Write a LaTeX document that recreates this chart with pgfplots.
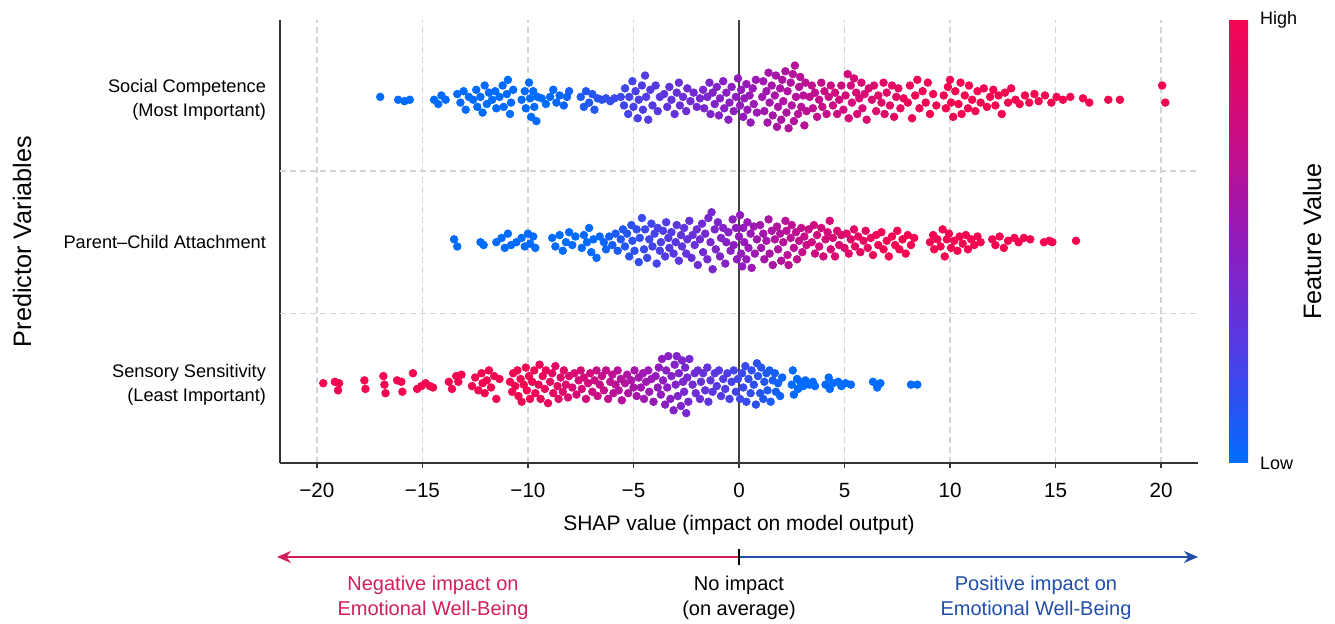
\documentclass[border=0pt]{standalone}
\usepackage{pgfplots}
\pgfplotsset{compat=1.18}
\usepackage{fontspec}
\setmainfont{Liberation Sans}
\usetikzlibrary{arrows.meta}
\definecolor{negc}{RGB}{208,32,92}
\definecolor{posc}{RGB}{32,78,170}
\definecolor{gridc}{RGB}{212,212,212}

\begin{document}
\begin{tikzpicture}
\begin{axis}[
  name=ax,
  scale only axis,
  width=459pt, height=221.5pt,
  xmin=-21.75, xmax=21.75,
  ymin=-0.55, ymax=2.56,
  axis x line*=bottom, axis y line*=left,
  axis line style={-, black!80, line width=0.8pt},
  xtick={-20,-15,...,20},
  xticklabels={−20,−15,−10,−5,0,5,10,15,20},
  tick align=outside,
  major tick length=2.5pt,
  xtick style={black!80, line width=0.7pt},
  ytick={0,1,2},
  yticklabels={{Sensory Sensitivity\\(Least Important)},{Parent--Child Attachment},{Social Competence\\(Most Important)}},
  ytick style={draw=none},
  yticklabel style={align=right, font=\fontsize{9.1pt}{12pt}\selectfont, xshift=-1pt},
  xticklabel style={font=\fontsize{10.3pt}{12pt}\selectfont, yshift=-4pt},
  xmajorgrids=true,
  extra y ticks={0.5,1.5},
  extra y tick labels={},
  extra y tick style={grid=major},
  major grid style={gridc, line width=0.6pt, dash pattern=on 3pt off 2pt},
  xlabel={SHAP value (impact on model output)},
  xlabel style={at={(axis description cs:0.5,-0.14)}, anchor=center, font=\fontsize{10.5pt}{12pt}\selectfont},
  ylabel={Predictor Variables},
  ylabel style={at={(axis description cs:-0.281,0.5)}, anchor=center, font=\fontsize{12.6pt}{14pt}\selectfont},
  colormap={shap}{rgb255=(0,108,255) rgb255=(80,60,230) rgb255=(145,28,190) rgb255=(205,12,130) rgb255=(243,5,80)},
  point meta min=0, point meta max=1,
  colorbar,
  colorbar style={
    at={(parent axis.north east)}, anchor=north west, xshift=7pt,
    width=9.5pt, height=221.5pt,
    ytick={0,1}, yticklabels={Low,High},
    major tick length=0pt,
    axis line style={draw=none},
    yticklabel style={font=\fontsize{9pt}{11pt}\selectfont, xshift=2.5pt},
    ylabel={Feature Value},
    ylabel style={at={(axis description cs:4.37,0.5)}, anchor=center, font=\fontsize{12.6pt}{14pt}\selectfont},
  },
  scatter/use mapped color={draw=mapped color, fill=mapped color},
]

% Social Competence (row 2)
\addplot[scatter, only marks, mark=*, mark size=1.9pt,
  point meta={max(0,min(1,(\thisrow{x}+9)/18))}]
  table[row sep=\\, x=x, y expr=\thisrow{d}+2] {
x d\\
-17.0 0.02\\ -16.15 0\\ -15.85 -0.01\\ -15.6 0\\
-14.45 0\\ -14.25 -0.03\\ -14.1 0.03\\ -13.9 0\\
-13.35 0.04\\ -13.2 -0.02\\ -13.05 0.06\\ -12.95 -0.07\\ -12.8 0.02\\
-12.6 0\\ -12.45 0.07\\ -12.4 -0.05\\ -12.25 0.02\\ -12.15 -0.09\\ -12.05 0.1\\ -11.95 -0.03\\ -11.85 0.05\\
-11.7 0\\ -11.55 0.06\\ -11.5 -0.06\\ -11.35 0.02\\ -11.2 0.1\\ -11.15 -0.05\\ -11.0 0.04\\ -10.95 0.14\\ -10.85 -0.1\\ -10.8 -0.02\\ -10.7 0.07\\
-10.3 0\\ -10.15 0.06\\ -10.1 -0.06\\ -9.95 0.12\\ -9.9 0.01\\ -9.85 -0.12\\ -9.75 0.06\\ -9.7 -0.05\\ -9.6 -0.15\\ -9.55 0.02\\
-9.35 0.01\\ -9.15 -0.03\\ -8.95 0.02\\ -8.8 0.07\\ -8.65 -0.02\\ -8.5 0.03\\ -8.3 -0.04\\ -8.15 0.02\\ -8.05 0.06\\
-7.5 0.02\\ -7.35 -0.05\\ -7.25 0.06\\ -7.1 -0.02\\ -6.95 0.04\\ -6.85 -0.07\\ -6.7 0.01\\
-6.5 0\\ -6.3 0.01\\ -6.1 -0.01\\ -5.9 0.01\\
-5.6 0.02\\ -5.45 -0.04\\ -5.4 0.08\\ -5.25 -0.1\\ -5.2 0.02\\ -5.05 0.13\\ -5.0 -0.05\\ -4.9 0.06\\ -4.8 -0.13\\ -4.75 0\\
-4.6 0.1\\ -4.55 -0.07\\ -4.45 0.17\\ -4.4 0.02\\ -4.3 -0.14\\ -4.2 0.07\\ -4.1 -0.04\\ -3.95 0.1\\ -3.85 -0.08\\ -3.75 0.02\\
-3.55 0.04\\ -3.4 -0.05\\ -3.3 0.09\\ -3.2 0\\ -3.05 -0.1\\ -2.95 0.05\\ -2.85 0.12\\ -2.8 -0.04\\ -2.65 0.02\\ -2.5 -0.08\\ -2.45 0.08\\ -2.3 -0.01\\ -2.15 0.05\\ -2.0 -0.05\\
-1.85 0.01\\ -1.7 0.07\\ -1.65 -0.06\\ -1.5 0.02\\ -1.4 0.12\\ -1.35 -0.1\\ -1.25 0.05\\ -1.15 -0.03\\ -1.05 0.09\\ -0.95 -0.11\\
-0.9 0.01\\ -0.75 0.13\\ -0.7 -0.06\\ -0.6 0.05\\ -0.5 -0.14\\ -0.45 -0.02\\ -0.35 0.09\\ -0.25 -0.08\\ -0.15 0.02\\ -0.05 0.15\\
0.05 -0.04\\ 0.1 0.07\\ 0.2 -0.12\\ 0.25 0.01\\ 0.35 0.11\\ 0.4 -0.07\\ 0.5 0.03\\ 0.55 -0.16\\ 0.65 0.08\\ 0.7 -0.03\\ 0.8 0.14\\ 0.85 -0.09\\
1.1 0.02\\ 1.15 0.13\\ 1.2 -0.08\\ 1.3 0.06\\ 1.35 -0.16\\ 1.4 0.19\\ 1.45 -0.02\\ 1.55 0.1\\ 1.6 -0.11\\ 1.7 0.03\\ 1.75 0.17\\ 1.8 -0.19\\
1.85 -0.05\\ 1.95 0.08\\ 2.0 -0.14\\ 2.05 0.14\\ 2.1 -0.01\\ 2.2 0.2\\ 2.25 -0.09\\ 2.3 0.06\\ 2.35 -0.2\\ 2.45 0.12\\ 2.5 -0.04\\ 2.55 0.18\\
2.6 -0.15\\ 2.65 0.24\\ 2.7 0.02\\ 2.8 -0.1\\ 2.85 0.09\\ 2.9 0.16\\ 2.95 -0.05\\ 3.05 0.03\\ 3.1 -0.18\\ 3.15 0.12\\ 3.2 -0.08\\
3.35 0.02\\ 3.45 0.1\\ 3.5 -0.06\\ 3.6 0.05\\ 3.7 -0.12\\ 3.8 0\\ 3.9 0.12\\ 3.95 -0.05\\ 4.05 0.06\\ 4.15 -0.1\\ 4.25 0.02\\ 4.35 0.1\\ 4.45 -0.04\\ 4.55 0.05\\ 4.65 -0.1\\ 4.75 0\\ 4.85 0.1\\
4.95 -0.07\\ 5.05 0.03\\ 5.15 0.18\\ 5.2 -0.13\\ 5.3 0.1\\ 5.35 -0.02\\ 5.45 0.15\\ 5.55 0.05\\ 5.6 -0.1\\ 5.7 0.01\\ 5.8 0.12\\ 5.85 -0.06\\ 5.95 0.04\\ 6.05 -0.14\\ 6.15 0.08\\
6.3 0\\ 6.4 0.1\\ 6.5 -0.08\\ 6.6 0.03\\ 6.75 -0.02\\ 6.85 0.12\\ 6.9 -0.1\\ 7.0 0.05\\ 7.15 -0.04\\ 7.25 0.1\\ 7.35 -0.12\\ 7.45 0.02\\ 7.55 0.08\\ 7.65 -0.06\\ 7.8 0.01\\
8.0 -0.02\\ 8.1 0.1\\ 8.2 -0.13\\ 8.35 0.03\\ 8.45 0.14\\ 8.55 -0.06\\ 8.7 0.06\\ 8.85 -0.02\\ 8.95 0.12\\ 9.05 -0.1\\ 9.2 0.04\\ 9.35 -0.04\\
9.7 0.03\\ 9.8 -0.06\\ 9.9 0.09\\ 10.0 0.14\\ 10.05 -0.02\\ 10.15 -0.12\\ 10.25 0.06\\ 10.4 -0.03\\ 10.5 0.12\\ 10.55 -0.1\\
10.7 0.03\\ 10.85 -0.06\\ 10.9 0.1\\ 11.05 0\\ 11.2 -0.08\\ 11.3 0.06\\ 11.45 -0.02\\ 11.6 0.08\\ 11.75 -0.05\\ 11.9 0.02\\
12.05 0.07\\ 12.15 -0.04\\ 12.3 0.03\\ 12.45 -0.1\\ 12.6 0.05\\ 12.75 -0.02\\ 12.9 0.08\\ 13.1 0\\
13.3 -0.03\\ 13.55 0.03\\ 13.75 -0.02\\ 14.0 0.04\\ 14.2 -0.01\\ 14.5 0.03\\ 14.8 -0.02\\ 15.05 0.02\\ 15.35 0\\ 15.7 0.02\\
16.3 0.01\\ 16.6 -0.02\\ 17.5 0\\ 18.05 0\\ 20.05 0.1\\ 20.2 -0.02\\
};

% Parent-Child Attachment (row 1)
\addplot[scatter, only marks, mark=*, mark size=1.9pt,
  point meta={max(0,min(1,(\thisrow{x}+7)/14))}]
  table[row sep=\\, x=x, y expr=\thisrow{d}+1] {
x d\\
-13.5 0.02\\ -13.35 -0.03\\ -12.25 0\\ -12.1 -0.02\\
-11.5 0\\ -11.25 0.03\\ -11.1 -0.04\\ -10.95 0.06\\ -10.8 -0.02\\ -10.55 0\\ -10.3 0.03\\ -10.15 -0.03\\ -10.0 0.06\\ -9.9 -0.01\\ -9.75 0.04\\ -9.65 -0.04\\
-8.85 0.03\\ -8.7 -0.03\\ -8.5 0.05\\ -8.35 -0.06\\ -8.2 0\\ -8.05 0.07\\ -7.9 -0.02\\ -7.75 0.04\\
-7.45 -0.04\\ -7.35 0.05\\ -7.2 0\\ -7.1 0.1\\ -7.0 -0.07\\ -6.9 0.02\\ -6.75 -0.11\\ -6.6 0.04\\
-6.4 0\\ -6.3 -0.05\\ -6.15 0.04\\ -6.0 -0.02\\ -5.85 0.06\\ -5.75 -0.06\\ -5.6 0.02\\ -5.5 0.09\\
-5.4 -0.03\\ -5.3 0.06\\ -5.2 -0.1\\ -5.1 0.12\\ -5.05 0.01\\ -4.95 -0.06\\ -4.85 0.09\\ -4.75 -0.14\\ -4.7 0.03\\ -4.6 0.17\\
-4.5 -0.05\\ -4.45 0.09\\ -4.35 -0.11\\ -4.25 0.02\\ -4.15 0.13\\ -4.1 -0.03\\ -4.0 0.06\\ -3.9 -0.15\\ -3.85 0.1\\ -3.75 -0.06\\
-3.7 0\\ -3.6 0.08\\ -3.5 -0.1\\ -3.45 0.14\\ -3.35 0.03\\ -3.3 -0.04\\
-3.2 0.07\\ -3.1 -0.08\\ -3.0 0\\ -2.95 0.12\\ -2.85 -0.13\\ -2.75 0.05\\ -2.7 -0.03\\ -2.6 0.1\\ -2.5 -0.08\\ -2.45 0.02\\
-2.35 0.15\\ -2.25 -0.11\\ -2.2 0.05\\ -2.1 -0.02\\ -2.0 0.09\\ -1.95 -0.16\\ -1.85 0.02\\ -1.75 0.13\\ -1.7 -0.07\\ -1.6 0.06\\
-1.5 -0.12\\ -1.45 0.17\\ -1.35 0\\ -1.3 0.21\\ -1.25 -0.19\\ -1.15 0.09\\ -1.1 -0.05\\ -1.0 0.14\\ -0.9 -0.1\\ -0.85 0.03\\
-0.75 0.1\\ -0.65 -0.15\\ -0.6 0\\ -0.5 0.07\\ -0.4 -0.06\\ -0.3 0.16\\ -0.25 -0.02\\ -0.15 0.1\\ -0.1 -0.12\\
0.0 0.04\\ 0.05 0.19\\ 0.1 -0.08\\ 0.15 -0.17\\ 0.2 0.1\\ 0.25 0\\ 0.35 -0.12\\ 0.4 0.14\\ 0.45 -0.04\\ 0.55 0.06\\ 0.6 -0.18\\ 0.7 0.11\\ 0.75 -0.08\\ 0.85 0.02\\
1.0 0.12\\ 1.05 -0.04\\ 1.15 0.06\\ 1.2 -0.12\\ 1.3 0.01\\ 1.4 0.16\\ 1.45 -0.08\\ 1.55 0.08\\ 1.6 -0.16\\ 1.7 0.02\\ 1.8 0.11\\ 1.85 -0.05\\
1.95 0.06\\ 2.0 -0.13\\ 2.1 0\\ 2.2 0.15\\ 2.25 0.08\\ 2.3 -0.09\\ 2.35 -0.16\\ 2.45 0.03\\ 2.5 0.12\\ 2.6 -0.04\\ 2.7 0.07\\ 2.75 -0.12\\
2.85 0.01\\ 2.95 0.1\\ 3.0 -0.07\\ 3.1 0.04\\ 3.2 -0.02\\ 3.3 0.09\\
3.45 0\\ 3.55 0.12\\ 3.6 -0.08\\ 3.7 0.05\\ 3.8 -0.03\\ 3.9 0.1\\ 4.0 -0.1\\ 4.1 0.02\\ 4.2 0.07\\ 4.3 0.15\\ 4.35 -0.05\\ 4.45 0.03\\ 4.55 -0.1\\ 4.65 0.08\\ 4.75 -0.02\\ 4.85 0.05\\
5.0 -0.04\\ 5.1 0.06\\ 5.2 -0.08\\ 5.3 0.02\\ 5.45 0.09\\ 5.5 -0.03\\ 5.65 0.04\\ 5.75 -0.07\\ 5.9 0.01\\ 6.0 0.08\\ 6.1 -0.04\\ 6.25 0.03\\ 6.35 -0.09\\ 6.5 0.05\\
6.6 -0.02\\ 6.75 0.07\\ 6.85 -0.05\\ 7.0 0.01\\ 7.1 -0.1\\ 7.25 0.04\\ 7.4 -0.02\\ 7.5 0.08\\ 7.6 -0.05\\ 7.75 0.02\\ 7.9 -0.08\\ 8.0 0.05\\ 8.15 -0.02\\ 8.3 0.03\\
9.05 0\\ 9.2 0.05\\ 9.25 -0.05\\ 9.4 0.02\\ 9.55 -0.03\\ 9.65 0.09\\ 9.75 -0.1\\ 9.85 0.02\\ 9.95 0.06\\ 10.05 -0.04\\
10.2 0.01\\ 10.35 -0.06\\ 10.45 0.04\\ 10.6 -0.01\\ 10.75 0.05\\ 10.85 -0.05\\ 11.0 0.02\\ 11.15 -0.02\\ 11.3 0.04\\ 11.45 0\\
12.0 0.02\\ 12.15 -0.02\\ 12.35 0.04\\ 12.55 -0.04\\ 12.75 0.01\\ 13.05 0.03\\ 13.25 0\\ 13.5 0.03\\ 13.8 0.02\\
14.45 0\\ 14.7 0.01\\ 14.85 0\\ 15.97 0.01\\
};

% Sensory Sensitivity (row 0)
\addplot[scatter, only marks, mark=*, mark size=1.9pt,
  point meta={max(0,min(1,(2.5-\thisrow{x})/12.5))}]
  table[row sep=\\, x=x, y expr=\thisrow{d}] {
x d\\
-19.7 0.01\\ -19.15 0.02\\ -18.95 0.01\\ -19.0 -0.04\\ -17.75 0.03\\ -17.7 -0.03\\
-16.85 0.06\\ -16.8 0\\ -16.75 -0.06\\ -16.2 0.03\\ -16.0 0.02\\ -15.95 -0.05\\ -15.45 0.08\\
-15.25 -0.03\\ -15.05 -0.01\\ -14.85 0.01\\ -14.65 -0.01\\ -14.5 -0.02\\
-13.75 0.02\\ -13.6 -0.03\\ -13.4 0.06\\ -13.3 0.02\\ -13.15 0.07\\
-12.65 -0.01\\ -12.5 0.05\\ -12.35 -0.04\\ -12.2 0.08\\ -12.15 0.01\\ -12.05 -0.06\\ -11.95 0.03\\ -11.85 0.1\\ -11.75 -0.02\\ -11.6 0.06\\ -11.5 -0.1\\ -11.35 0.04\\
-10.85 0.02\\ -10.75 -0.05\\ -10.7 0.08\\ -10.6 -0.01\\ -10.5 0.1\\ -10.45 -0.08\\ -10.35 0.04\\ -10.3 -0.12\\ -10.2 0\\ -10.1 0.12\\
-10.05 -0.04\\ -9.95 0.06\\ -9.9 -0.1\\ -9.8 0.02\\ -9.7 0.1\\ -9.65 -0.06\\
-9.5 0\\ -9.45 0.14\\ -9.4 -0.1\\ -9.3 0.06\\ -9.2 -0.03\\ -9.15 0.1\\ -9.05 -0.13\\ -8.95 0.02\\ -8.85 0.08\\ -8.8 -0.06\\
-8.7 0.13\\ -8.6 -0.01\\ -8.55 -0.1\\ -8.45 0.05\\ -8.35 -0.05\\ -8.3 0.1\\ -8.2 0\\ -8.1 -0.09\\ -8.05 0.06\\
-7.9 -0.02\\ -7.8 0.08\\ -7.7 -0.07\\ -7.6 0.03\\ -7.5 0.1\\ -7.45 -0.03\\ -7.35 0.05\\ -7.25 -0.1\\ -7.15 0.01\\ -7.05 0.08\\
-6.95 -0.05\\ -6.85 0.03\\ -6.75 0.1\\ -6.7 -0.08\\ -6.6 0\\ -6.5 0.06\\ -6.4 -0.04\\ -6.3 0.1\\ -6.2 -0.1\\ -6.1 0.02\\
-6.0 0.07\\ -5.95 -0.06\\ -5.85 0\\ -5.75 0.1\\ -5.7 -0.04\\ -5.6 0.04\\ -5.55 -0.11\\
-5.4 0.01\\ -5.3 0.07\\ -5.25 -0.06\\ -5.1 0.03\\ -5.0 -0.02\\ -4.95 0.1\\ -4.85 -0.08\\ -4.75 0.05\\ -4.65 -0.02\\ -4.55 0.08\\
-4.5 -0.1\\ -4.4 0.02\\ -4.3 0.1\\ -4.25 -0.05\\ -4.15 0.04\\ -4.05 -0.12\\ -3.95 0.06\\ -3.85 -0.02\\ -3.8 0.12\\
-3.7 -0.07\\ -3.65 0.18\\ -3.6 0.03\\ -3.5 -0.14\\ -3.45 0.1\\ -3.4 -0.02\\ -3.35 0.2\\ -3.25 -0.1\\ -3.2 0.06\\ -3.1 -0.18\\
-3.05 0.14\\ -3.0 0\\ -2.95 0.2\\ -2.9 -0.08\\ -2.85 0.08\\ -2.75 -0.15\\ -2.7 0.17\\ -2.65 0.02\\ -2.6 -0.05\\ -2.55 0.12\\ -2.5 -0.2\\ -2.45 0.05\\ -2.4 -0.12\\ -2.35 0.18\\
-2.2 0\\ -2.1 0.08\\ -2.05 -0.06\\ -1.95 0.1\\ -1.85 -0.1\\ -1.8 0.02\\ -1.7 0.08\\ -1.6 -0.04\\ -1.5 0.12\\ -1.45 -0.12\\ -1.35 0.03\\ -1.25 -0.05\\
-1.15 0.08\\ -1.05 -0.01\\ -0.95 0.1\\ -0.85 -0.08\\ -0.75 0.04\\ -0.65 -0.03\\ -0.55 0.08\\ -0.45 -0.1\\ -0.35 0.02\\ -0.25 0.1\\ -0.15 -0.05\\ -0.05 0.04\\
0.05 -0.1\\ 0.15 0.08\\ 0.2 -0.02\\ 0.3 0.13\\ 0.35 -0.12\\ 0.45 0.04\\ 0.55 -0.06\\ 0.6 0.1\\ 0.7 0\\ 0.8 -0.14\\ 0.85 0.15\\ 0.9 0.06\\ 1.0 -0.06\\
1.05 0.12\\ 1.15 -0.1\\ 1.2 0.02\\ 1.3 0.08\\ 1.35 -0.04\\ 1.45 0.1\\ 1.5 -0.12\\ 1.6 0.03\\ 1.7 0.08\\ 1.75 -0.05\\ 1.85 0.01\\ 1.95 -0.08\\ 2.05 0.05\\
2.5 0\\ 2.55 0.1\\ 2.6 -0.07\\ 2.75 0.04\\ 2.8 -0.03\\ 2.9 0.02\\ 3.05 -0.01\\ 3.15 0.03\\ 3.35 0\\ 3.5 0.02\\ 3.6 -0.01\\
4.1 0\\ 4.25 0.05\\ 4.3 -0.03\\ 4.45 0.01\\ 4.7 0.02\\ 4.85 -0.01\\ 5.05 0.01\\ 5.3 0\\
6.35 0.02\\ 6.55 -0.02\\ 6.7 0.01\\ 8.15 0\\ 8.45 0\\
};

\draw[black!75, line width=0.75pt] (axis cs:0,-0.55) -- (axis cs:0,2.56);
\end{axis}

% impact direction arrow
\draw[negc, line width=1pt, -{Stealth[length=7pt,width=6pt]}]
  ([shift={(229.5pt,-47pt)}]ax.south west) -- ([shift={(-1.5pt,-47pt)}]ax.south west);
\draw[posc, line width=1pt, -{Stealth[length=7pt,width=6pt]}]
  ([shift={(229.5pt,-47pt)}]ax.south west) -- ([shift={(459pt,-47pt)}]ax.south west);
\draw[black, line width=0.8pt]
  ([shift={(229.5pt,-43pt)}]ax.south west) -- ([shift={(229.5pt,-51pt)}]ax.south west);
\node[negc, align=center, font=\fontsize{10pt}{12.5pt}\selectfont]
  at ([shift={(76.5pt,-67.25pt)}]ax.south west) {Negative impact on\\Emotional Well-Being};
\node[black, align=center, font=\fontsize{10pt}{12.5pt}\selectfont]
  at ([shift={(229.5pt,-67.25pt)}]ax.south west) {No impact\\(on average)};
\node[posc, align=center, font=\fontsize{10pt}{12.5pt}\selectfont]
  at ([shift={(378pt,-67.25pt)}]ax.south west) {Positive impact on\\Emotional Well-Being};

\pgfresetboundingbox
\path[use as bounding box] ([shift={(-140pt,-80.5pt)}]ax.south west) rectangle ([shift={(527.5pt,231.5pt)}]ax.south west);
\end{tikzpicture}
\end{document}
